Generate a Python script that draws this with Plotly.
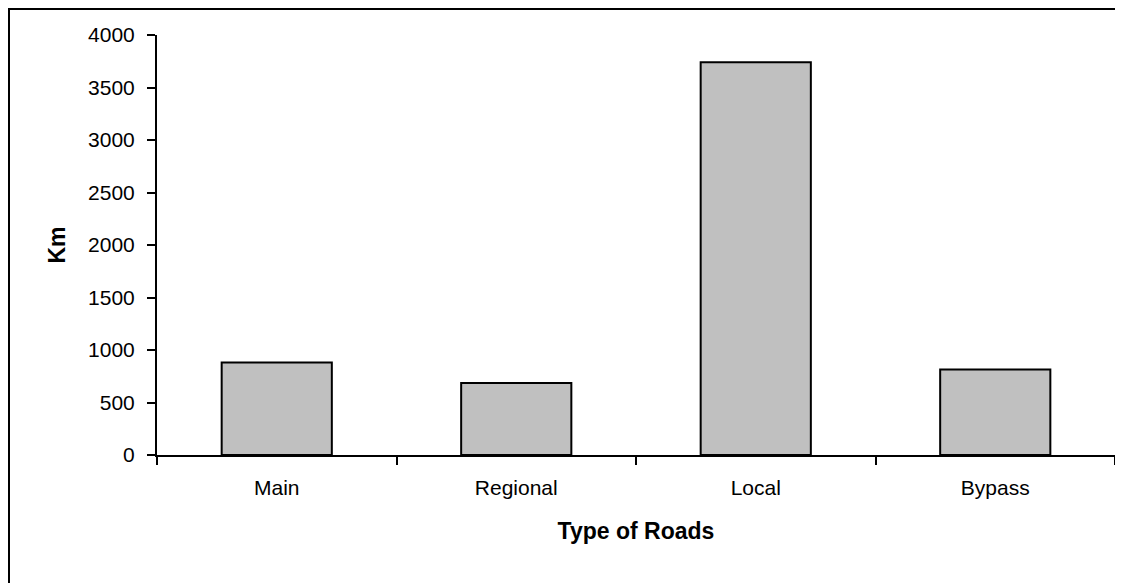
import plotly.graph_objects as go

road_types = ["Main", "Regional", "Local", "Bypass"]
km = [880, 685, 3740, 815]
y_ticks = [0, 500, 1000, 1500, 2000, 2500, 3000, 3500, 4000]

font = "Liberation Sans, Arial, sans-serif"

fig = go.Figure()
fig.add_trace(go.Bar(
    x=road_types, y=km,
    marker=dict(color="#C0C0C0", line=dict(color="black", width=2)),
))

# page body adds an 8px offset, so margins are shifted to compensate
fig.update_layout(
    width=1123, height=583,
    margin=dict(l=149, r=16, t=27, b=136),
    paper_bgcolor="white", plot_bgcolor="white",
    font=dict(family=font, size=21, color="black"),
    bargap=0.54,
    showlegend=False,
)

fig.update_xaxes(
    type="category",
    showline=True, linecolor="black", linewidth=2,
    ticks="outside", ticklen=8, tickwidth=2, tickcolor="black",
    tickson="boundaries",
    ticklabelstandoff=13,
    showgrid=False,
    title=dict(text="<b>Type of Roads</b>", standoff=25, font=dict(size=23)),
)
fig.update_yaxes(
    range=[0, 4000],
    tickvals=y_ticks,
    showline=True, linecolor="black", linewidth=2,
    ticks="outside", ticklen=8, tickwidth=2, tickcolor="black",
    ticklabelstandoff=8,
    showgrid=False, zeroline=False,
    title=dict(text="<b>Km</b>", standoff=16, font=dict(size=23)),
)

# outer chart frame
plot_w = 1123 - 149 - 16
plot_h = 583 - 27 - 136
fig.add_shape(
    type="rect", xref="paper", yref="paper",
    x0=-148 / plot_w, x1=1.05, y0=-0.5, y1=1 + 26 / plot_h,
    line=dict(color="black", width=2), layer="below",
)

fig.write_html("out.html")
